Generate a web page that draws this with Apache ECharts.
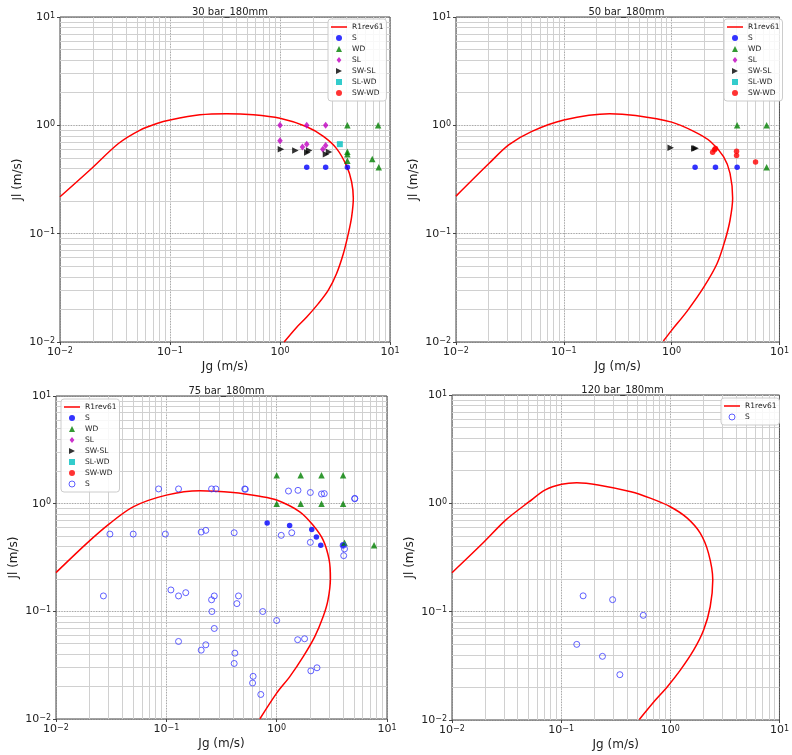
<!DOCTYPE html>
<html><head><meta charset="utf-8">
<script src="https://cdn.jsdelivr.net/npm/echarts@6/dist/echarts.min.js"></script>
<style>html,body{margin:0;padding:0;background:#fff}#c{width:792px;height:755px}</style>
</head><body><div id="c"></div>
<script>
// ---------- data ----------
const plotTitles = ['30 bar_180mm', '50 bar_180mm', '75 bar_180mm', '120 bar_180mm'];
const axisMin = 0.01, axisMax = 10;

// R1rev61 boundary curves [Jg, Jl]
const curve30 = [[0.01,0.219],[0.0187,0.387],[0.034,0.68],[0.053,0.9],[0.076,1.04],[0.1,1.12],[0.187,1.25],[0.327,1.28],[0.573,1.25],[1.0,1.16],[1.75,0.97],[2.48,0.79],[3.27,0.61],[4.04,0.42],[4.48,0.30],[4.64,0.212],[4.48,0.143],[4.18,0.1],[3.77,0.0656],[3.27,0.0429],[2.75,0.0301],[2.23,0.0226],[1.75,0.017],[1.4,0.0135],[1.09,0.01]];
const curve50 = [[0.01,0.222],[0.0203,0.446],[0.0308,0.659],[0.05,0.875],[0.1,1.12],[0.266,1.28],[0.463,1.23],[1.0,1.07],[1.62,0.875],[2.29,0.71],[3.03,0.514],[3.48,0.36],[3.68,0.212],[3.48,0.133],[3.13,0.087],[2.64,0.053],[2.0,0.0324],[1.41,0.0196],[1.0,0.0128],[0.838,0.0102]];
const curve75 = [[0.01,0.229],[0.019,0.428],[0.0308,0.656],[0.05,0.935],[0.1,1.2],[0.201,1.32],[0.404,1.27],[0.703,1.17],[1.0,1.08],[1.62,0.84],[2.14,0.63],[2.64,0.459],[2.99,0.3],[3.07,0.203],[2.92,0.128],[2.64,0.0895],[2.21,0.058],[1.74,0.038],[1.32,0.0249],[1.0,0.0174],[0.703,0.01]];
const curve120 = [[0.01,0.229],[0.0191,0.428],[0.031,0.70],[0.0506,1.03],[0.0716,1.33],[0.101,1.5],[0.139,1.55],[0.218,1.48],[0.436,1.28],[0.664,1.11],[1.0,0.93],[1.43,0.73],[1.88,0.53],[2.24,0.345],[2.45,0.196],[2.32,0.111],[2.02,0.0677],[1.64,0.0443],[1.24,0.029],[0.94,0.0203],[0.711,0.0148],[0.52,0.0101]];

// 30 bar observations
const s30 = [[1.75,0.41],[2.6,0.41],[4.1,0.41]];
const wd30 = [[4.1,1.0],[7.8,1.0],[4.1,0.57],[4.1,0.54],[4.1,0.47],[6.9,0.49],[7.9,0.41]];
const sl30 = [[1.0,1.0],[1.75,1.0],[2.6,1.0],[1.0,0.72],[1.6,0.63],[1.75,0.67],[2.45,0.60],[2.6,0.65]];
const swsl30 = [[1.02,0.60],[1.38,0.587],[1.77,0.56],[1.84,0.587],[2.62,0.54],[2.79,0.566]];
const slwd30 = [[3.5,0.67]];
const swwd30 = [];

// 50 bar observations
const s50 = [[1.65,0.41],[2.55,0.41],[4.05,0.41]];
const wd50 = [[4.05,1.0],[7.6,1.0],[7.6,0.41]];
const sl50 = [];
const swsl50 = [[0.98,0.62],[1.62,0.61],[1.67,0.615]];
const slwd50 = [];
const swwd50 = [[2.4,0.565],[2.5,0.595],[2.55,0.61],[4.0,0.528],[4.0,0.575],[6.0,0.458]];

// 75 bar observations
const s75 = [[0.82,0.66],[1.31,0.628],[2.08,0.577],[2.29,0.49],[2.51,0.41],[4.0,0.41]];
const wd75 = [[1.0,1.84],[1.65,1.84],[2.55,1.84],[4.0,1.84],[1.0,1.0],[1.65,1.0],[2.55,1.0],[4.0,1.0],[4.12,0.434],[7.63,0.41]];
const sOpen75 = [[0.0269,0.139],[0.0308,0.522],[0.0501,0.522],[0.098,0.522],[0.0851,1.37],[0.129,1.37],[0.257,1.37],[0.281,1.37],[0.514,1.37],[0.52,1.36],[1.28,1.31],[1.56,1.33],[2.02,1.27],[2.55,1.23],[2.7,1.24],[5.1,1.11],[5.1,1.12],[0.207,0.545],[0.228,0.565],[0.412,0.537],[1.10,0.508],[1.37,0.537],[2.02,0.437],[4.0,0.41],[4.12,0.38],[4.05,0.329],[0.11,0.158],[0.129,0.139],[0.15,0.149],[0.272,0.139],[0.257,0.128],[0.451,0.139],[0.436,0.118],[0.259,0.0996],[0.748,0.0996],[1.0,0.0822],[0.272,0.0693],[0.129,0.0525],[0.207,0.0436],[0.228,0.0489],[0.418,0.0409],[0.412,0.0328],[1.55,0.0545],[1.79,0.0556],[0.612,0.0249],[0.605,0.0216],[0.718,0.0169],[2.04,0.028],[2.32,0.0299]];

// 120 bar observations
const sOpen120 = [[0.159,0.14],[0.296,0.129],[0.565,0.0925],[0.139,0.0499],[0.239,0.0387],[0.345,0.0262]];

// ---------- styling ----------
const FONT = 'DejaVu Sans';
const grids = [
  {left: 60, top: 17, width: 330, height: 325},
  {left: 456, top: 17, width: 331, height: 325},
  {left: 56, top: 396, width: 331, height: 323},
  {left: 452, top: 395, width: 331, height: 325}
];
const markerStyles = {
  'S':      {symbol: 'circle', symbolSize: 5.5, itemStyle: {color: '#0000ff'}},
  'WD':     {symbol: 'triangle', symbolSize: 6.5, itemStyle: {color: '#008000'}},
  'SL':     {symbol: 'diamond', symbolSize: [5.5, 7], itemStyle: {color: '#bf00bf'}},
  'SW-SL':  {symbol: 'triangle', symbolSize: 6.5, symbolRotate: -90, itemStyle: {color: '#000000'}},
  'SL-WD':  {symbol: 'rect', symbolSize: 6, itemStyle: {color: '#00bfbf'}},
  'SW-WD':  {symbol: 'circle', symbolSize: 5.5, itemStyle: {color: '#ff0000'}},
  'S_open': {symbol: 'circle', symbolSize: 6, itemStyle: {color: 'rgba(0,0,0,0)', borderColor: '#3a3aff', borderWidth: 1}}
};

const minorVals = [];
[0.01, 0.1, 1].forEach(d => { for (let k = 2; k <= 9; k++) minorVals.push(+(k * d).toPrecision(3)); });

function expLabel(v) {
  const e = Math.round(Math.log10(v));
  return '{b|10}{s|' + (e < 0 ? '\u2212' + (-e) : String(e)) + '}';
}
const labelRich = {
  b: {fontSize: 11, fontFamily: FONT, color: '#222', verticalAlign: 'bottom'},
  s: {fontSize: 8, fontFamily: FONT, color: '#222', lineHeight: 8, padding: [0, 0, 5, 0], verticalAlign: 'top'}
};

const xAxes = [], yAxes = [], series = [], titles = [];
grids.forEach((g, i) => {
  titles.push({text: plotTitles[i], left: g.left + g.width / 2, top: g.top - 15, textAlign: 'center',
    textStyle: {fontSize: 10, fontWeight: 'normal', color: '#222', fontFamily: FONT}});
  const common = {
    gridIndex: i, type: 'log', logBase: 10, min: axisMin, max: axisMax,
    nameLocation: 'middle', nameTextStyle: {fontSize: 12, color: '#222', fontFamily: FONT},
    axisLine: {show: false},
    axisTick: {show: true, inside: false, length: 3, lineStyle: {color: '#444'}},
    axisLabel: {formatter: expLabel, rich: labelRich, margin: 5},
    splitLine: {show: true, lineStyle: {type: 'dotted', color: '#777', width: 0.8}}
  };
  xAxes.push(Object.assign({}, common, {name: 'Jg (m/s)', nameGap: 19}));
  yAxes.push(Object.assign({}, common, {name: 'Jl (m/s)', nameGap: 36, nameRotate: 90}));
});

function addCurve(i, data) {
  series.push({
    type: 'line', name: 'R1rev61', xAxisIndex: i, yAxisIndex: i, data: data,
    symbol: 'none', smooth: 0.3, z: 3,
    lineStyle: {color: '#ff0000', width: 1.5}, itemStyle: {color: '#ff0000'},
    markLine: {
      silent: true, symbol: 'none', z: 1, animation: false, label: {show: false},
      lineStyle: {color: '#d0d0d0', width: 1, type: 'solid'},
      emphasis: {disabled: true},
      data: minorVals.map(v => ({xAxis: v})).concat(minorVals.map(v => ({yAxis: v})))
    }
  });
}
function addScatter(i, name, data) {
  series.push(Object.assign({type: 'scatter', name: name, xAxisIndex: i, yAxisIndex: i, data: data, z: 4},
    JSON.parse(JSON.stringify(markerStyles[name]))));
}

addCurve(0, curve30);
addScatter(0, 'S', s30); addScatter(0, 'WD', wd30); addScatter(0, 'SL', sl30);
addScatter(0, 'SW-SL', swsl30); addScatter(0, 'SL-WD', slwd30); addScatter(0, 'SW-WD', swwd30);

addCurve(1, curve50);
addScatter(1, 'S', s50); addScatter(1, 'WD', wd50); addScatter(1, 'SL', sl50);
addScatter(1, 'SW-SL', swsl50); addScatter(1, 'SL-WD', slwd50); addScatter(1, 'SW-WD', swwd50);

addCurve(2, curve75);
addScatter(2, 'S', s75); addScatter(2, 'WD', wd75); addScatter(2, 'SL', []);
addScatter(2, 'SW-SL', []); addScatter(2, 'SL-WD', []); addScatter(2, 'SW-WD', []);
addScatter(2, 'S_open', sOpen75);

addCurve(3, curve120);
addScatter(3, 'S_open', sOpen120);

// legend icon shapes (aspect-preserving paths)
const LINE_ICON = 'path://M0,0H16V1.5H0Z';
const RIGHT_TRI = 'path://M0,0L10,5L0,10Z';
const UP_TRI = 'path://M5,0L10,10L0,10Z';
const DIAMOND = 'path://M4,0L8,5L4,10L0,5Z';
const SQUARE = 'path://M0,0H10V10H0Z';
const legendBase = {
  orient: 'vertical', itemWidth: 16, itemHeight: 6, itemGap: 3,
  padding: [4, 3, 4, 3], backgroundColor: 'rgba(255,255,255,0.85)',
  borderColor: '#cccccc', borderWidth: 1, borderRadius: 3,
  selectedMode: false, symbolKeepAspect: true,
  textStyle: {fontSize: 7.5, lineHeight: 8, color: '#222', fontFamily: FONT},
  formatter: n => (n === 'S_open' ? 'S' : n)
};
const fullList = [
  {name: 'R1rev61', icon: LINE_ICON}, 'S', {name: 'WD', icon: UP_TRI}, {name: 'SL', icon: DIAMOND},
  {name: 'SW-SL', icon: RIGHT_TRI}, {name: 'SL-WD', icon: SQUARE}, 'SW-WD'
];
const openItem = {name: 'S_open', itemStyle: {borderWidth: 1}};
const legends = [
  Object.assign({}, legendBase, {left: 328, top: 19, data: fullList}),
  Object.assign({}, legendBase, {left: 724, top: 19, data: fullList}),
  Object.assign({}, legendBase, {left: 61, top: 399, data: fullList.concat([openItem])}),
  Object.assign({}, legendBase, {left: 721, top: 398, data: [{name: 'R1rev61', icon: LINE_ICON}, openItem]})
];

const chart = echarts.init(document.getElementById('c'), null, {renderer: 'canvas'});
chart.setOption({
  animation: false,
  backgroundColor: '#ffffff',
  textStyle: {fontFamily: FONT},
  title: titles,
  grid: grids.map(g => Object.assign({show: true, borderColor: '#444', borderWidth: 1, backgroundColor: 'rgba(0,0,0,0)'}, g)),
  xAxis: xAxes,
  yAxis: yAxes,
  legend: legends,
  series: series
});
</script>
</body></html>
